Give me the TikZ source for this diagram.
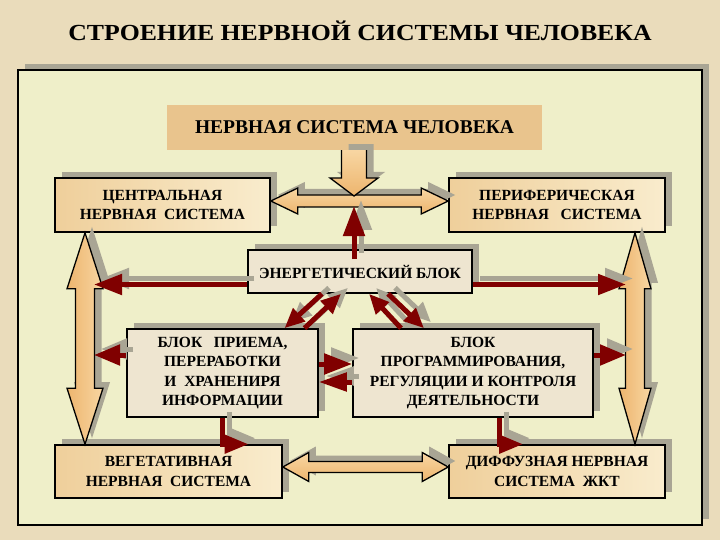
\documentclass[tikz,border=0pt]{standalone}
\usepackage{fontspec}
\setmainfont{Liberation Serif}
\usetikzlibrary{calc,arrows.meta,shadows}

\definecolor{parchment}{HTML}{EADCBB}
\definecolor{panelfill}{HTML}{EFEFC9}
\definecolor{shadowgray}{HTML}{A9A594}
\definecolor{darkred}{HTML}{800000}
\definecolor{tanbox}{HTML}{E9C48D}
\definecolor{tanlight}{HTML}{F9ECCD}
\definecolor{tandark}{HTML}{EFCF9B}
\definecolor{beigebox}{HTML}{EEE5D0}
\definecolor{arrowlight}{HTML}{F8D6A2}
\definecolor{arrowdark}{HTML}{EDB56E}

\newcommand\titlefont{\fontsize{23}{27}\selectfont\bfseries}
\newcommand\boxfont{\fontsize{15.5}{19.5}\selectfont\bfseries}

\tikzset{
	backshade/.style={fill=shadowgray, draw=none, transform canvas={xshift=7pt, yshift=6pt}},
	boxshadow/.style={drop shadow={shadow xshift=7pt, shadow yshift=6pt, fill=shadowgray, opacity=1}},
	sysbox/.style={draw=black, line width=1.6pt, left color=tandark, right color=tanlight, boxshadow, align=center, font=\boxfont},
	blockbox/.style={draw=black, line width=1.6pt, fill=beigebox, boxshadow, align=center, font=\boxfont},
	hbarrow/.style={draw=black, line width=1.3pt, top color=arrowlight, bottom color=arrowdark},
	vbarrow/.style={draw=black, line width=1.3pt, left color=arrowdark, right color=arrowlight},
	redline/.style={draw=darkred, line width=5pt},
	redshade/.style={draw=shadowgray, line width=5pt, transform canvas={xshift=7pt, yshift=6pt}},
}

\begin{document}
\begin{tikzpicture}[x=1pt, y=-1pt]
	% \bighbar#lefttip#righttip#shaft#head#headlength
	\def\bighbar#1#2#3#4#5{
		\foreach \sty in {backshade,hbarrow} {
			\draw[\sty] (#1) -- ++(#5,-#4) -- ++(0,#4-#3) -- ($(#2)+(-#5,-#3)$) -- ++(0,#3-#4) -- (#2) -- ++(-#5,#4) -- ++(0,#3-#4) -- ($(#1)+(#5,#3)$) -- ++(0,#4-#3) -- cycle;
		}
	}
	
	% \bigvbar#toptip#bottomtip#shaft#head#headlength
	\def\bigvbar#1#2#3#4#5{
		\foreach \sty in {backshade,vbarrow} {
			\draw[\sty] (#1) -- ++(#4,#5) -- ++(#3-#4,0) -- ($(#2)+(#3,-#5)$) -- ++(#4-#3,0) -- (#2) -- ++(-#4,-#5) -- ++(#4-#3,0) -- ($(#1)+(-#3,#5)$) -- ++(#3-#4,0) -- cycle;
		}
	}
	
	% \redlink#path#tiplength#tipwidth
	\def\redlink#1#2#3{
		\draw[redshade, -{Triangle[length=#2, width=#3]}] #1;
		\draw[redline, -{Triangle[length=#2, width=#3]}] #1;
	}
	
	\fill[parchment] (0,0) rectangle (720,540);
	\useasboundingbox (0,0) rectangle (720,540);
	\node[font=\titlefont, xscale=1.12] (title) at (360,31) {СТРОЕНИЕ НЕРВНОЙ СИСТЕМЫ ЧЕЛОВЕКА};
	
	% panel
	\fill[shadowgray] (25,64) rectangle (709,519);
	\draw[line width=2.5pt, fill=panelfill] (18,70) rectangle (702,525);
	
	% boxes
	\node[fill=tanbox, minimum width=375pt, minimum height=45pt, font=\fontsize{19.5}{23}\selectfont\bfseries] (human) at (354.5,127.5) {НЕРВНАЯ СИСТЕМА ЧЕЛОВЕКА};
	\node[sysbox, minimum width=215pt, minimum height=54pt] (cns) at (162.5,205) {ЦЕНТРАЛЬНАЯ\\НЕРВНАЯ\ \ СИСТЕМА};
	\node[sysbox, minimum width=216pt, minimum height=54pt] (pns) at (557,205) {ПЕРИФЕРИЧЕСКАЯ\\НЕРВНАЯ\ \ \ СИСТЕМА};
	\node[blockbox, minimum width=224pt, minimum height=43pt] (energy) at (360,271.5) {ЭНЕРГЕТИЧЕСКИЙ БЛОК};
	\node[blockbox, minimum width=191pt, minimum height=88pt] (priem) at (222.5,373) {БЛОК\ \ \ ПРИЕМА,\\ПЕРЕРАБОТКИ\\И\ \ ХРАНЕНИРЯ\\ИНФОРМАЦИИ};
	\node[blockbox, minimum width=240pt, minimum height=88pt] (prog) at (473,373) {БЛОК\\ПРОГРАММИРОВАНИЯ,\\РЕГУЛЯЦИИ И КОНТРОЛЯ\\ДЕЯТЕЛЬНОСТИ};
	\node[sysbox, minimum width=227pt, minimum height=53pt] (veg) at (168.5,471.5) {ВЕГЕТАТИВНАЯ\\НЕРВНАЯ\ \ СИСТЕМА};
	\node[sysbox, minimum width=216pt, minimum height=53pt] (diff) at (557,471.5) {ДИФФУЗНАЯ НЕРВНАЯ\\СИСТЕМА\ \ ЖКТ};
	
	% ports
	\coordinate (hub) at (354,201);
	\coordinate (lbus) at (85,0);
	\coordinate (rbus) at (635,0);
	\coordinate (ledge) at (94,0);
	\coordinate (redge) at (626,0);
	\coordinate (cnsport) at ([yshift=4pt]cns.east);
	\coordinate (pnsport) at ([yshift=4pt]pns.west);
	\coordinate (vegport) at ([yshift=4.5pt]veg.east);
	\coordinate (diffport) at ([yshift=4.5pt]diff.west);
	\coordinate (ltop) at (cns.south -| lbus);
	\coordinate (lbot) at (veg.north -| lbus);
	\coordinate (rtop) at (pns.south -| rbus);
	\coordinate (rbot) at (diff.north -| rbus);
	\coordinate (humanport) at (human.south -| hub);
	\coordinate (hubtop) at ([yshift=5pt]hub);
	
	% big arrows
	\bighbar{cnsport}{pnsport}{6}{13}{27}
	\bighbar{vegport}{diffport}{5.5}{14.5}{26}
	\bigvbar{ltop}{lbot}{9.5}{18}{56}
	\bigvbar{rtop}{rbot}{9.5}{16}{56}
	\fill[shadowgray, transform canvas={xshift=7pt, yshift=6pt}] ($(humanport)+(-12.5,0)$) -- ($(hubtop)+(-12.5,-18)$) -- ++(-11.5,0) -- (hubtop) -- ++(24,-18) -- ++(-11.5,0) -- ($(humanport)+(12.5,0)$) -- cycle;
	\path[hbarrow, draw=none] ($(humanport)+(-12.5,0)$) -- ($(hubtop)+(-12.5,-18)$) -- ++(-11.5,0) -- (hubtop) -- ++(24,-18) -- ++(-11.5,0) -- ($(humanport)+(12.5,0)$) -- cycle;
	\draw[line width=1.3pt] ($(humanport)+(-12.5,0)$) -- ($(hubtop)+(-12.5,-18)$) -- ++(-11.5,0) -- (hubtop) -- ++(24,-18) -- ++(-11.5,0) -- ($(humanport)+(12.5,0)$);
	
	% red links
	\coordinate (energytop) at ([yshift=-10pt]energy.north);
	\coordinate (ewest) at ([yshift=-13pt]energy.west);
	\coordinate (eeast) at ([yshift=-13pt]energy.east);
	\coordinate (pwest) at ([yshift=18pt]priem.west);
	\coordinate (geast) at ([yshift=18pt]prog.east);
	\coordinate (pout) at ([yshift=9pt]priem.east);
	\coordinate (gout) at ([yshift=-9pt]prog.west);
	\coordinate (vegin) at ([xshift=80pt]veg.north);
	\coordinate (progdrop) at ([xshift=26pt]prog.south);
	\coordinate (diffin) at ([xshift=-34pt]diff.north);
	\redlink{(energytop -| hub) -- ([yshift=-5pt]hub)}{30pt}{21pt}
	\redlink{(ewest) -- (ewest -| ledge)}{28pt}{20pt}
	\redlink{(eeast) -- (eeast -| redge)}{28pt}{20pt}
	\redlink{(pwest) -- (pwest -| ledge)}{26pt}{20pt}
	\redlink{(geast) -- (geast -| redge)}{26pt}{20pt}
	\redlink{(pout) -- (pout -| prog.west)}{28pt}{20pt}
	\redlink{(gout) -- (gout -| priem.east)}{28pt}{18pt}
	\redlink{(priem.south) |- (vegin)}{24pt}{18pt}
	\redlink{(progdrop) |- (diffin)}{24pt}{18pt}
	\redlink{([xshift=-38pt]energy.south) -- ([xshift=62pt]priem.north)}{20pt}{17pt}
	\redlink{([xshift=82pt]priem.north) -- ([xshift=-19pt]energy.south)}{20pt}{17pt}
	\redlink{([xshift=-72pt]prog.north) -- ([xshift=9pt]energy.south)}{20pt}{17pt}
	\redlink{([xshift=28pt]energy.south) -- ([xshift=-49pt]prog.north)}{20pt}{17pt}
\end{tikzpicture}
\end{document}
